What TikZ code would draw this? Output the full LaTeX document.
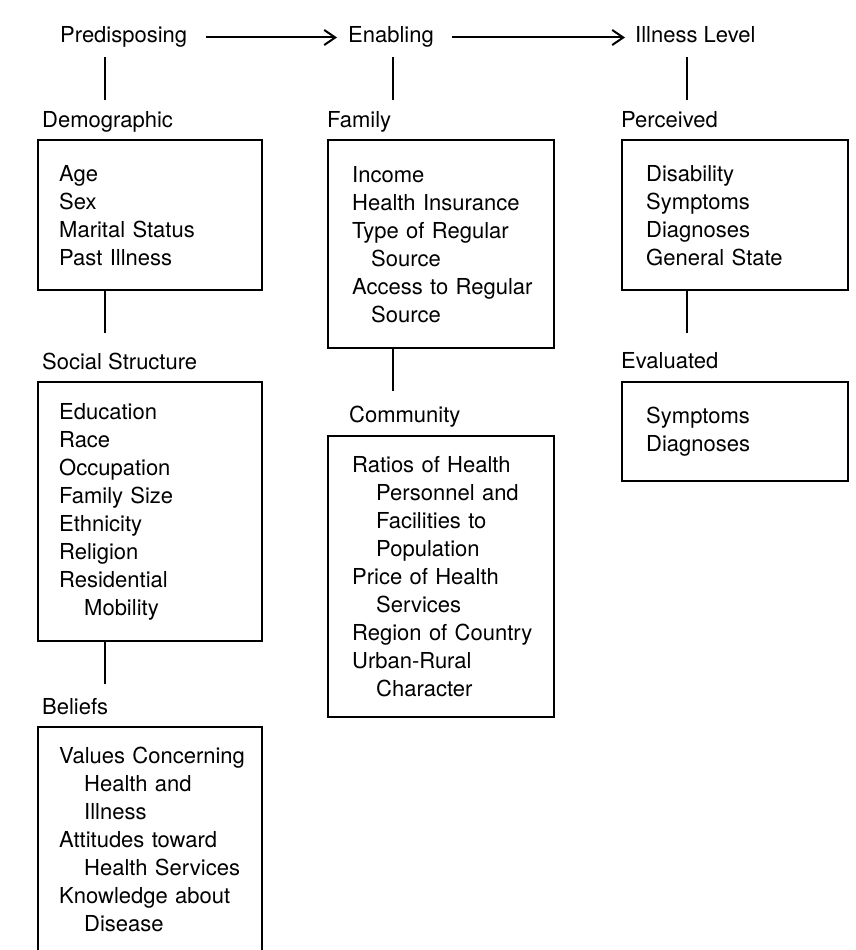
\documentclass[tikz,border=0pt]{standalone}
\usepackage{fontspec}
\setmainfont{TeX Gyre Heros}
\usetikzlibrary{arrows.meta,positioning}

\newcommand{\ind}[1][25pt]{\hspace*{#1}}

\begin{document}
\begin{tikzpicture}[x=1pt,y=1pt]
\tikzset{
    head/.style={
           inner sep=0pt,
           anchor=base west,
           text height=16pt,
           text depth=5pt,
           font=\fontsize{22}{28}\selectfont},
    group/.style={
           inner sep=0pt,
           text height=16pt,
           text depth=5pt,
           font=\fontsize{22}{28}\selectfont},
    % boxes holding the lists
    list/.style={
           rectangle,
           draw,
           line width=2.4pt,
           inner xsep=0pt,
           inner ysep=0pt,
           text width=226pt,
           align=left,
           anchor=north west,
           execute at begin node={\leftskip=#1},
           font=\fontsize{22}{28}\selectfont},
    list/.default=24pt,
    link/.style={line width=2pt},
    arrow/.style={
           -{Straight Barb[length=11pt,width=15pt]},
           line width=2pt}
}
\useasboundingbox (0,0) rectangle (855,-950);

\node[head] (pred) at (60,-43) {Predisposing};
\node[head] (enab) at (348,-43) {Enabling};
\node[head] (ill) at (635,-43) {Illness Level};

% predisposing column
\node[list=21pt, text width=224pt, minimum height=150pt] (demo) at (37,-139)
    {Age\\Sex\\Marital Status\\Past Illness};
\node[list=21pt, text width=224pt, minimum height=259pt] (soc) at (37,-381)
    {Education\\Race\\Occupation\\Family Size\\Ethnicity\\Religion\\Residential\\\ind Mobility};
\node[list=21pt, text width=224pt, minimum height=224pt] (bel) at (37,-726)
    {Values Concerning\\\ind Health and\\\ind Illness\\Attitudes toward\\\ind Health Services\\Knowledge about\\\ind Disease};
\node[group, above right=6pt and 5pt of demo.north west] (demohd) {Demographic};
\node[group, above right=6pt and 5pt of soc.north west] (sochd) {Social Structure};
\node[group, above right=6pt and 5pt of bel.north west] (belhd) {Beliefs};

% enabling column
\node[list, minimum height=208pt] (fam) at (327,-139)
    {Income\\Health Insurance\\Type of Regular\\\ind[19pt]Source\\Access to Regular\\\ind[19pt]Source};
\node[list, minimum height=281pt] (com) at (327,-435)
    {Ratios of Health\\\ind[24pt]Personnel and\\\ind[24pt]Facilities to\\\ind[24pt]Population\\Price of Health\\\ind[24pt]Services\\Region of Country\\Urban-Rural\\\ind[24pt]Character};
\node[group, above right=6pt and 0pt of fam.north west] (famhd) {Family};
\node[group, above right=7pt and 22pt of com.north west] (comhd) {Community};

% illness level column
\node[list, minimum height=150pt] (perc) at (621,-139)
    {Disability\\Symptoms\\Diagnoses\\General State};
\node[list, minimum height=99pt] (eval) at (621,-381)
    {Symptoms\\Diagnoses};
\node[group, above right=6pt and 0pt of perc.north west] (perchd) {Perceived};
\node[group, above right=7pt and 0pt of eval.north west] (evalhd) {Evaluated};

\draw[arrow, shorten <=19pt, shorten >=11pt] (pred) -- (enab);
\draw[arrow, shorten <=18pt, shorten >=10pt] (enab) -- (ill);

\draw[link] (demo.north west |- pred.south) ++(68pt,-9pt) -- ++(0,-43pt);
\draw[link] (fam.north west |- enab.south) ++(66pt,-9pt) -- ++(0,-43pt);
\draw[link] (perc.north west |- ill.south) ++(66pt,-9pt) -- ++(0,-43pt);
\draw[link] ([xshift=68pt]demo.south west) -- ++(0,-42pt);
\draw[link] ([xshift=68pt]soc.south west) -- ++(0,-42pt);
\draw[link] ([xshift=66pt]fam.south west) -- ++(0,-42pt);
\draw[link] ([xshift=66pt]perc.south west) -- ++(0,-42pt);
\end{tikzpicture}
\end{document}
